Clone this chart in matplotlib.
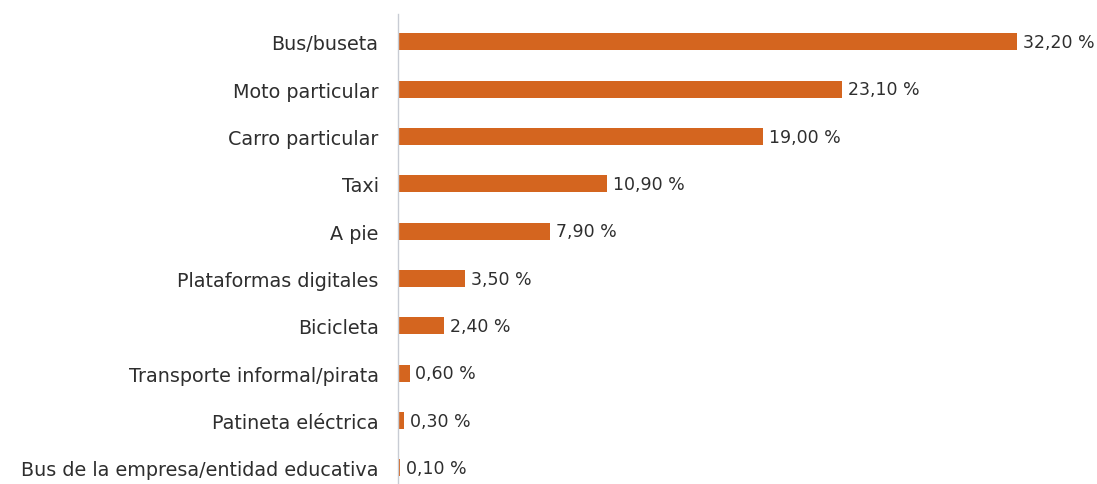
import matplotlib
matplotlib.use("Agg")
import matplotlib.pyplot as plt

categorias = [
    "Bus/buseta",
    "Moto particular",
    "Carro particular",
    "Taxi",
    "A pie",
    "Plataformas digitales",
    "Bicicleta",
    "Transporte informal/pirata",
    "Patineta eléctrica",
    "Bus de la empresa/entidad educativa",
]
porcentajes = [32.20, 23.10, 19.00, 10.90, 7.90, 3.50, 2.40, 0.60, 0.30, 0.10]

plt.rcParams["font.family"] = ["DejaVu Sans"]

fig = plt.figure(figsize=(10.97, 4.85), dpi=100)
ax = fig.add_axes([398 / 1097, 0, 1 - 398 / 1097, 470 / 485])

pos = list(range(len(categorias)))
ax.barh(pos, porcentajes, height=0.36, color="#D4651F")

for p, v in zip(pos, porcentajes):
    texto = f"{v:.2f} %".replace(".", ",")
    ax.text(v + 0.3, p, texto, va="center", ha="left", fontsize=12.5,
            color="#2e2e2e")

ax.set_yticks(pos)
ax.set_yticklabels(categorias, fontsize=13.8, color="#2e2e2e")
ax.tick_params(axis="y", length=0, pad=14)
ax.set_xticks([])
ax.set_xlim(0, 36.37)
ax.set_ylim(9.34, -0.59)

for lado in ["top", "right", "bottom"]:
    ax.spines[lado].set_visible(False)
ax.spines["left"].set_color("#c8ccd4")
ax.spines["left"].set_linewidth(1)

fig.savefig("out.png", dpi=100)
